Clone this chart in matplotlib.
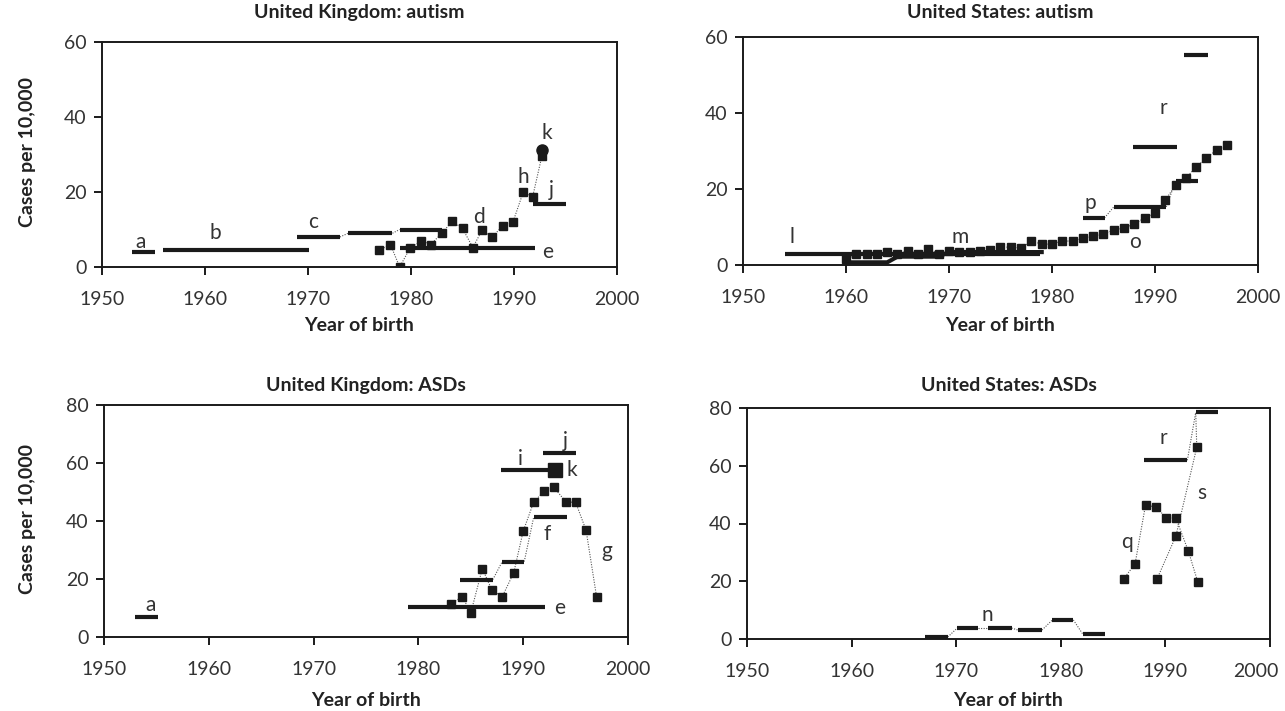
import matplotlib
matplotlib.use('Agg')
import matplotlib.pyplot as plt
import matplotlib.transforms as mtransforms

plt.rcParams['font.family'] = ['Lato', 'DejaVu Sans']

# ---------------- data ----------------
# United Kingdom: autism
uk_aut_bar_a = (1952.9, 1955.1, 4.0)
uk_aut_bar_b = (1955.9, 1970.1, 4.5)
uk_aut_c_start = [1968.9, 1973.9, 1978.9]
uk_aut_c_end = [1973.1, 1978.2, 1983.0]
uk_aut_c_val = [8.0, 9.0, 10.0]
uk_aut_bar_e = (1978.9, 1992.0, 5.2)
uk_aut_bar_j = (1991.8, 1995.0, 16.8)
uk_aut_sq_year = [1976.9, 1978.0, 1978.9, 1979.9, 1981.0, 1981.9, 1983.0, 1984.0,
                  1985.0, 1986.0, 1986.9, 1987.9, 1988.9, 1989.9, 1990.9, 1991.8, 1992.7]
uk_aut_sq_val = [4.5, 6.0, 0.0, 5.0, 7.0, 6.0, 9.0, 12.2,
                 10.3, 5.2, 9.8, 8.0, 11.0, 12.0, 20.0, 18.6, 29.5]
uk_aut_k = (1992.7, 31.3)
uk_aut_labels = ['a', 'b', 'c', 'd', 'e', 'h', 'j', 'k']
uk_aut_label_x = [1953.7, 1961.0, 1970.5, 1986.6, 1993.3, 1990.9, 1993.6, 1993.2]
uk_aut_label_y = [6.6, 9.0, 11.9, 13.3, 4.0, 23.9, 20.4, 35.8]

# United States: autism
us_aut_bar_l = (1954.1, 1978.8, 3.0)
us_aut_m_x = [1960.0, 1964.0, 1965.0, 1969.0, 1970.0, 1979.0]
us_aut_m_y = [0.7, 0.7, 2.2, 2.2, 3.4, 3.4]
us_aut_p_start = [1983.0, 1986.0, 1992.0]
us_aut_p_end = [1985.1, 1991.1, 1994.2]
us_aut_p_val = [12.4, 15.3, 22.1]
us_aut_r_start = [1987.9, 1992.8]
us_aut_r_end = [1992.1, 1995.1]
us_aut_r_val = [31.0, 55.2]
us_aut_sq_year = list(range(1960, 1998))
us_aut_sq_val = [1.5, 2.8, 3.0, 3.0, 3.3, 2.8, 3.8, 3.0, 4.3, 3.0,
                 3.8, 3.5, 3.5, 3.8, 4.0, 4.7, 4.7, 4.5, 6.3, 5.5,
                 5.5, 6.3, 6.3, 7.1, 7.6, 8.2, 9.2, 9.7, 10.8, 12.4,
                 13.7, 17.1, 21.0, 22.9, 25.8, 28.2, 30.3, 31.6]
us_aut_labels = ['l', 'm', 'p', 'o', 'r']
us_aut_label_x = [1954.8, 1971.1, 1983.7, 1988.1, 1990.8]
us_aut_label_y = [7.4, 7.4, 16.3, 6.1, 41.3]

# United Kingdom: ASDs
uk_asd_bar_a = (1953.0, 1955.2, 6.9)
uk_asd_bar_e = (1979.0, 1992.1, 10.4)
uk_asd_bar_i = (1987.9, 1993.0, 57.6)
uk_asd_bar_j = (1991.9, 1995.0, 63.5)
uk_asd_f_start = [1984.0, 1988.0, 1991.0]
uk_asd_f_end = [1987.1, 1990.1, 1994.2]
uk_asd_f_val = [19.8, 26.0, 41.3]
uk_asd_k = (1993.0, 57.6)
uk_asd_sq_year = [1983.1, 1984.2, 1985.0, 1986.1, 1987.0, 1988.0, 1989.1, 1990.0,
                  1991.0, 1992.0, 1992.9, 1994.1, 1995.0, 1996.0, 1997.0]
uk_asd_sq_val = [11.5, 13.9, 8.3, 23.6, 16.3, 13.9, 22.2, 36.5,
                 46.5, 50.3, 51.7, 46.5, 46.5, 36.8, 13.9]
uk_asd_labels = ['a', 'e', 'f', 'g', 'i', 'j', 'k']
uk_asd_label_x = [1954.4, 1993.5, 1992.3, 1998.0, 1989.7, 1994.0, 1994.6]
uk_asd_label_y = [11.1, 10.1, 35.4, 29.5, 61.5, 67.7, 57.6]

# United States: ASDs
us_asd_n_start = [1967.0, 1970.1, 1973.0, 1975.9, 1979.2, 1982.1]
us_asd_n_end = [1969.2, 1972.1, 1975.3, 1978.2, 1981.2, 1984.2]
us_asd_n_val = [0.7, 3.8, 3.8, 3.1, 6.6, 1.7]
us_asd_r_start = [1988.0, 1992.9]
us_asd_r_end = [1992.1, 1995.0]
us_asd_r_val = [61.9, 78.5]
us_asd_q_year = [1986.0, 1987.1, 1988.1, 1989.1, 1990.1, 1991.0, 1992.2, 1993.1]
us_asd_q_val = [20.8, 26.0, 46.4, 45.7, 41.9, 41.9, 30.4, 19.7]
us_asd_s_year = [1989.2, 1991.0, 1993.0]
us_asd_s_val = [20.8, 35.6, 66.4]
us_asd_labels = ['n', 'q', 'r', 's']
us_asd_label_x = [1973.0, 1986.3, 1989.8, 1993.5]
us_asd_label_y = [8.3, 33.6, 69.6, 50.5]

titles = ['United Kingdom: autism', 'United States: autism',
          'United Kingdom: ASDs', 'United States: ASDs']
x_ticks = [1950, 1960, 1970, 1980, 1990, 2000]
y_ticks_autism = [0, 20, 40, 60]
y_ticks_asd = [0, 20, 40, 60, 80]

# ---------------- style ----------------
BAR_LW = 3.0
SQ_MS = 6
DOT = dict(color='#555555', lw=0.8, ls=(0, (1, 1.3)))
INK = '#1a1a1a'
TXT = '#333333'

W, H = 1285, 711
fig = plt.figure(figsize=(W / 100, H / 100), dpi=100)


def box(l, r, t, b):
    return [l / W, 1 - b / H, (r - l) / W, (b - t) / H]


axes = [fig.add_axes(box(102, 617, 42, 267)),
        fig.add_axes(box(743, 1258, 37, 265)),
        fig.add_axes(box(104, 628, 405, 637)),
        fig.add_axes(box(747, 1270, 408, 639))]


def bar(ax, s, e, v):
    ax.plot([s, e], [v, v], color=INK, lw=BAR_LW, solid_capstyle='butt', zorder=3)


def bar_series(ax, starts, ends, vals, connect=True):
    for s, e, v in zip(starts, ends, vals):
        bar(ax, s, e, v)
    if connect:
        for i in range(len(starts) - 1):
            ax.plot([ends[i], starts[i + 1]], [vals[i], vals[i + 1]], **DOT, zorder=2)


def squares(ax, xs, ys):
    ax.plot(xs, ys, **DOT, zorder=2)
    ax.plot(xs, ys, ls='none', marker='s', ms=SQ_MS, color=INK, zorder=4)


def labels(ax, names, xs, ys):
    for n, x, y in zip(names, xs, ys):
        ax.text(x, y, n, ha='center', va='center', fontsize=15, color=TXT)


# UK autism
ax = axes[0]
bar(ax, *uk_aut_bar_a)
bar(ax, *uk_aut_bar_b)
bar_series(ax, uk_aut_c_start, uk_aut_c_end, uk_aut_c_val)
bar(ax, *uk_aut_bar_e)
bar(ax, *uk_aut_bar_j)
squares(ax, uk_aut_sq_year, uk_aut_sq_val)
ax.plot([uk_aut_k[0]], [uk_aut_k[1]], marker='o', ms=8, color=INK, ls='none', zorder=5)
labels(ax, uk_aut_labels, uk_aut_label_x, uk_aut_label_y)

# US autism
ax = axes[1]
bar(ax, *us_aut_bar_l)
ax.plot(us_aut_m_x, us_aut_m_y, color=INK, lw=BAR_LW, zorder=3)
bar_series(ax, us_aut_p_start, us_aut_p_end, us_aut_p_val)
bar_series(ax, us_aut_r_start, us_aut_r_end, us_aut_r_val, connect=False)
squares(ax, us_aut_sq_year, us_aut_sq_val)
labels(ax, us_aut_labels, us_aut_label_x, us_aut_label_y)

# UK ASDs
ax = axes[2]
bar(ax, *uk_asd_bar_a)
bar(ax, *uk_asd_bar_e)
bar(ax, *uk_asd_bar_i)
bar(ax, *uk_asd_bar_j)
bar_series(ax, uk_asd_f_start, uk_asd_f_end, uk_asd_f_val)
squares(ax, uk_asd_sq_year, uk_asd_sq_val)
ax.plot([uk_asd_k[0]], [uk_asd_k[1]], marker='s', ms=10, color=INK, ls='none', zorder=5)
labels(ax, uk_asd_labels, uk_asd_label_x, uk_asd_label_y)

# US ASDs
ax = axes[3]
bar_series(ax, us_asd_n_start, us_asd_n_end, us_asd_n_val)
bar_series(ax, us_asd_r_start, us_asd_r_end, us_asd_r_val)
squares(ax, us_asd_q_year, us_asd_q_val)
squares(ax, us_asd_s_year, us_asd_s_val)
ax.plot([us_asd_s_year[-1], us_asd_r_start[1]], [us_asd_s_val[-1], us_asd_r_val[1]], **DOT, zorder=2)
labels(ax, us_asd_labels, us_asd_label_x, us_asd_label_y)

title_pads = [17, 14, 10, 12]
for i, ax in enumerate(axes):
    ax.set_xlim(1950, 2000)
    if i < 2:
        ax.set_ylim(0, 60)
        ax.set_yticks(y_ticks_autism)
    else:
        ax.set_ylim(0, 80)
        ax.set_yticks(y_ticks_asd)
    ax.set_xticks(x_ticks)
    for sp in ax.spines.values():
        sp.set_color(INK)
        sp.set_linewidth(1.4)
    ax.tick_params(direction='out', length=6, width=1.4, colors=INK,
                   labelsize=14, labelcolor=TXT)
    ax.tick_params(axis='x', pad=11)
    ax.tick_params(axis='y', pad=5)
    ax.set_title(titles[i], fontsize=14, fontweight='bold', color='#222222',
                 pad=title_pads[i])

# keep the last x tick label of the bottom-right panel inside the figure
fig.canvas.draw()
last = axes[3].get_xticklabels()[-1]
last.set_transform(last.get_transform() +
                   mtransforms.ScaledTranslation(-14 / 100, 0, fig.dpi_scale_trans))

# axis labels
for xc, yc in [(359, 325), (1000, 325), (366, 700), (1008, 700)]:
    fig.text(xc / W, 1 - yc / H, 'Year of birth', ha='center', va='center',
             fontsize=14, fontweight='bold', color='#222222')
for yc in [152, 519]:
    fig.text(28 / W, 1 - yc / H, 'Cases per 10,000', ha='center', va='center',
             rotation=90, fontsize=14, fontweight='bold', color='#222222')

fig.savefig('out.png', dpi=100)
